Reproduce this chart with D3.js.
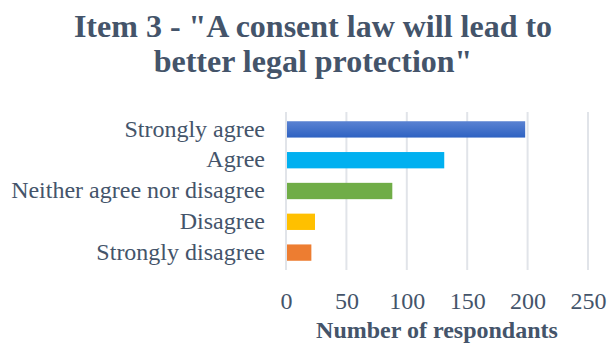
<!DOCTYPE html>
<html>
<head>
<meta charset="utf-8">
<script src="https://cdn.jsdelivr.net/npm/d3@7"></script>
<style>
  html, body { margin: 0; padding: 0; background: #fff; }
  svg { display: block; }
</style>
</head>
<body>
<svg id="chart" width="609" height="347"></svg>
<script>
// Survey responses for item 3
const categories = ["Strongly agree", "Agree", "Neither agree nor disagree", "Disagree", "Strongly disagree"];
const counts = [198, 131, 88, 24, 21];
const barColors = ["#4472C4", "#00B0F0", "#70AD47", "#FFC000", "#ED7D31"];
const xTicks = [0, 50, 100, 150, 200, 250];
const titleLines = ["Item 3 - \"A consent law will lead to", "better legal protection\""];
const axisTitle = "Number of respondants";

const textColor = "#44546A";
const font = "'Liberation Serif', 'Times New Roman', serif";

const svg = d3.select("#chart");
const plot = { left: 286, right: 588, top: 112, bottom: 270 };

const x = d3.scaleLinear().domain([0, 250]).range([plot.left, plot.right]);
const y = d3.scaleBand().domain(categories).range([plot.top, plot.bottom]).paddingInner(0.47).paddingOuter(0.3);

// Gradient for the top bar
const defs = svg.append("defs");
const grad = defs.append("linearGradient").attr("id", "gradTop").attr("x1", 0).attr("y1", 0).attr("x2", 0).attr("y2", 1);
grad.append("stop").attr("offset", "0%").attr("stop-color", "#5a82d2");
grad.append("stop").attr("offset", "100%").attr("stop-color", "#2e62c2");

// Title
svg.append("g").selectAll("text").data(titleLines).join("text")
  .attr("x", 313)
  .attr("y", (d, i) => 37 + i * 35)
  .attr("text-anchor", "middle")
  .attr("font-family", font)
  .attr("font-weight", "bold")
  .attr("font-size", 32)
  .attr("fill", textColor)
  .text(d => d);

// Vertical gridlines
svg.append("g").selectAll("line").data(xTicks).join("line")
  .attr("x1", d => x(d)).attr("x2", d => x(d))
  .attr("y1", plot.top).attr("y2", plot.bottom)
  .attr("stroke", "#e1e4e9")
  .attr("stroke-width", 2);

// Bars
svg.append("g").selectAll("rect").data(categories).join("rect")
  .attr("x", x(0) + 1)
  .attr("y", d => y(d))
  .attr("width", (d, i) => x(counts[i]) - x(0) - 1)
  .attr("height", y.bandwidth())
  .attr("fill", (d, i) => i === 0 ? "url(#gradTop)" : barColors[i]);

// Category labels
svg.append("g").selectAll("text").data(categories).join("text")
  .attr("x", 265)
  .attr("y", d => y(d) + y.bandwidth() / 2)
  .attr("dy", "0.3em")
  .attr("text-anchor", "end")
  .attr("font-family", font)
  .attr("font-size", 24)
  .attr("fill", textColor)
  .text(d => d);

// X axis tick labels
const xAxis = d3.axisBottom(x).tickValues(xTicks).tickSize(0).tickPadding(0);
const gx = svg.append("g").attr("transform", `translate(0, ${plot.bottom})`).call(xAxis);
gx.select(".domain").remove();
gx.selectAll("text")
  .attr("y", 0)
  .attr("dy", 39)
  .attr("font-family", font)
  .attr("font-size", 24)
  .attr("fill", textColor);

// Axis title
svg.append("text")
  .attr("x", 437)
  .attr("y", 338)
  .attr("text-anchor", "middle")
  .attr("font-family", font)
  .attr("font-weight", "bold")
  .attr("font-size", 24)
  .attr("fill", textColor)
  .text(axisTitle);
</script>
</body>
</html>
